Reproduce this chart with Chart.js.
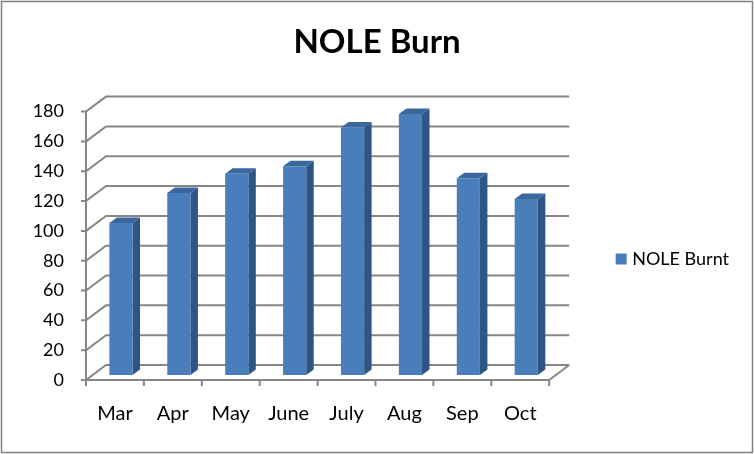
<!DOCTYPE html>
<html><head><meta charset="utf-8">
<script src="https://cdn.jsdelivr.net/npm/chart.js@4"></script>
<style>html,body{margin:0;padding:0;background:#fff}#w{width:754px;height:454px;position:relative}canvas{display:block}</style>
</head><body><div id="w"><canvas id="c" width="754" height="454"></canvas></div>
<script>
const categories = ["Mar","Apr","May","June","July","Aug","Sep","Oct"];
const burnt = [102,122,135,140,166,175,132,118];
const yTicks = [0,20,40,60,80,100,120,140,160,180];
const seriesName = "NOLE Burnt";
const FONT = "Lato, Carlito, sans-serif";
const GRID = "#868686";
const BLUE = "#4a7ebb";
const DEPTH = {x:20,y:-15}, BAR = {x:6,y:-5}, SIDE = {x:7.5,y:-5.5};

const frame = {
  id:"frame",
  afterLayout(c){
    const l=c.legend;
    if(l){ l.top+=32; l.bottom+=32; const a=c.width-l.right-15; l.left+=a; l.right+=a; }
    const t=c.titleBlock;
    if(t){ const d=377-(t.left+t.right)/2; t.left+=d; t.right+=d; }
  },
  beforeDraw(c){
    const g=c.ctx; g.save(); g.fillStyle="#fff"; g.fillRect(0,0,c.width,c.height);
    g.strokeStyle="#7f7f7f"; g.lineWidth=1.5; g.strokeRect(1.5,1.5,751,451); g.restore();
  },
  beforeDatasetsDraw(c){
    const g=c.ctx,a=c.chartArea,y=c.scales.y;
    g.save(); g.strokeStyle=GRID; g.lineWidth=2; g.lineJoin="miter";
    g.beginPath();
    yTicks.forEach(v=>{const p=y.getPixelForValue(v);
      g.moveTo(a.left-5,p); g.lineTo(a.left,p); g.lineTo(a.left+DEPTH.x,p+DEPTH.y); g.lineTo(a.right+DEPTH.x,p+DEPTH.y);});
    g.moveTo(a.left,a.top); g.lineTo(a.left,a.bottom);
    g.moveTo(a.left,a.bottom); g.lineTo(a.right,a.bottom); g.lineTo(a.right+DEPTH.x,a.bottom+DEPTH.y);
    for(let i=0;i<=categories.length;i++){const p=a.left+(a.right-a.left)*i/categories.length; g.moveTo(p,a.bottom); g.lineTo(p,a.bottom+6);}
    g.stroke();
    c.getDatasetMeta(0).data.forEach(b=>{
      const L=b.x-b.width/2+BAR.x,R=b.x+b.width/2+BAR.x,T=b.y+BAR.y,B=b.base+BAR.y;
      g.fillStyle="#2f5584"; g.beginPath(); g.moveTo(R,T); g.lineTo(R+SIDE.x,T+SIDE.y); g.lineTo(R+SIDE.x,B+SIDE.y); g.lineTo(R,B); g.closePath(); g.fill();
      g.fillStyle="#3a679c"; g.beginPath(); g.moveTo(L,T); g.lineTo(L+SIDE.x,T+SIDE.y); g.lineTo(R+SIDE.x,T+SIDE.y); g.lineTo(R,T); g.closePath(); g.fill();
    });
    g.restore();
    g.save(); g.translate(BAR.x,BAR.y);
  },
  afterDatasetsDraw(c){ c.ctx.restore(); }
};

new Chart(document.getElementById("c"),{
  type:"bar",
  plugins:[frame],
  data:{labels:categories,datasets:[{label:seriesName,data:burnt,backgroundColor:BLUE,borderWidth:0,barPercentage:0.4,categoryPercentage:1}]},
  options:{
    responsive:false,animation:false,
    layout:{padding:{left:0,right:75,top:0,bottom:0}},
    plugins:{
      tooltip:{enabled:false},
      title:{display:true,text:"NOLE Burn",color:"#000",font:{family:FONT,size:33,weight:"bold"},padding:{top:23,bottom:49}},
      legend:{display:true,position:"right",labels:{color:"#000",font:{family:FONT,size:18},boxWidth:4,boxHeight:4,padding:10,
        generateLabels(c){return Chart.defaults.plugins.legend.labels.generateLabels(c).map(i=>Object.assign(i,{lineWidth:7,strokeStyle:BLUE,fillStyle:BLUE}));}}}
    },
    scales:{
      x:{grid:{display:false},border:{display:false},ticks:{color:"#000",font:{family:FONT,size:20},padding:14,maxRotation:0},afterFit(s){s.height=74;}},
      y:{min:0,max:180,grid:{display:false},border:{display:false},afterBuildTicks(s){s.ticks=yTicks.map(v=>({value:v}));},
         ticks:{color:"#000",font:{family:FONT,size:18},padding:14},afterFit(s){s.width=86;}}
    }
  }
});
</script></body></html>
